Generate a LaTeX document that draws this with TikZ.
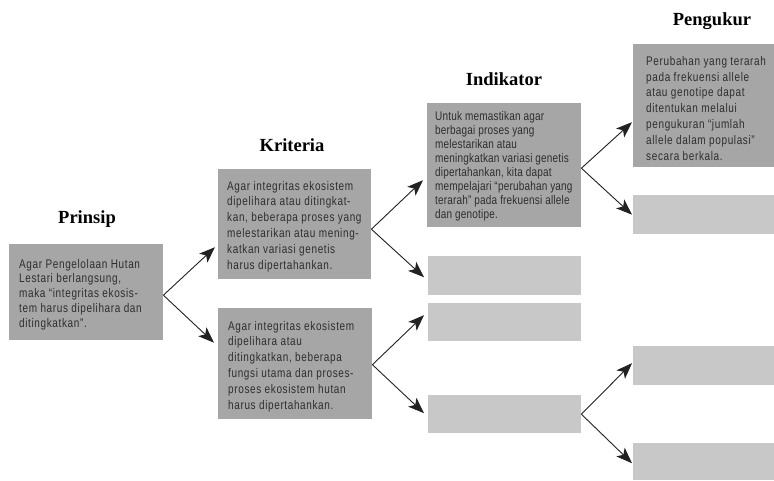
\documentclass[tikz,border=0pt]{standalone}
\usepackage{fontspec}
\setmainfont{Liberation Serif}
\newfontfamily\bodyfont{Liberation Sans}[FakeStretch=0.8, LetterSpace=5]
\newfontfamily\indfont{Liberation Sans}[FakeStretch=0.8, LetterSpace=1.5]
\usetikzlibrary{arrows.meta}
\definecolor{darkbox}{HTML}{A6A6A6}
\definecolor{lightbox}{HTML}{C8C8C8}
\definecolor{txtgray}{HTML}{2E2E2E}
\definecolor{arrowcol}{HTML}{222222}
\begin{document}
\begin{tikzpicture}[x=1pt,y=-1pt,
  dbox/.style={fill=darkbox, draw=none, anchor=north west, inner sep=0pt},
  lbox/.style={fill=lightbox, draw=none, anchor=north west, inner sep=0pt},
  title/.style={anchor=base, inner sep=0pt, font=\fontsize{18.5}{21}\selectfont\bfseries, text=black},
  btext/.style={anchor=base west, inner sep=0pt, align=left, text=txtgray, font=\bodyfont\fontsize{12.5}{15.8}\selectfont},
  itext/.style={anchor=base west, inner sep=0pt, align=left, text=txtgray, font=\indfont\fontsize{12.5}{14.1}\selectfont},
  arr/.style={draw=arrowcol, line width=0.9pt, -{Stealth[length=16pt,width=12pt,inset=4pt]}}
]
\useasboundingbox (0,0) rectangle (774,480);
\fill[white] (0,0) rectangle (774,480);

% titles
\node[title] (tP) at (87,223) {Prinsip};
\node[title] (tK) at (292,151) {Kriteria};
\node[title] (tI) at (504,85) {Indikator};
\node[title] (tG) at (712,25) {Pengukur};

% Prinsip
\node[dbox, minimum width=154pt, minimum height=96pt] (P) at (9,244) {};
\node[btext, font=\bodyfont\fontsize{12.5}{14.75}\selectfont] (Pt) at (19,327) {Agar Pengelolaan Hutan\\Lestari berlangsung,\\maka “integritas ekosis-\\tem harus dipelihara dan\\ditingkatkan”.};

% Kriteria
\node[dbox, minimum width=153pt, minimum height=110pt] (K1) at (218,169) {};
\node[btext] (K1t) at (227,269) {Agar integritas ekosistem\\dipelihara atau ditingkat-\\kan, beberapa proses yang\\melestarikan atau mening-\\katkan variasi genetis\\harus dipertahankan.};
\node[dbox, minimum width=154pt, minimum height=111pt] (K2) at (218,308) {};
\node[btext] (K2t) at (228,409) {Agar integritas ekosistem\\dipelihara atau\\ditingkatkan, beberapa\\fungsi utama dan proses-\\proses ekosistem hutan\\harus dipertahankan.};

% Indikator
\node[dbox, minimum width=154pt, minimum height=124pt] (I1) at (427,103) {};
\node[itext] (I1t) at (435,218.7) {Untuk memastikan agar\\berbagai proses yang\\melestarikan atau\\meningkatkan variasi genetis\\dipertahankan, kita dapat\\mempelajari “perubahan yang\\terarah” pada frekuensi allele\\dan genotipe.};
\node[lbox, minimum width=153pt, minimum height=39pt] (I2) at (428,256) {};
\node[lbox, minimum width=153pt, minimum height=38pt] (I3) at (428,303) {};
\node[lbox, minimum width=153pt, minimum height=38pt] (I4) at (428,395) {};

% Pengukur
\node[dbox, minimum width=141pt, minimum height=123pt] (G1) at (633,44) {};
\node[btext] (G1t) at (646,160) {Perubahan yang terarah\\pada frekuensi allele\\atau genotipe dapat\\ditentukan melalui\\pengukuran “jumlah\\allele dalam populasi”\\secara berkala.};
\node[lbox, minimum width=141pt, minimum height=39pt] (G2) at (633,195) {};
\node[lbox, minimum width=141pt, minimum height=39pt] (G3) at (633,346) {};
\node[lbox, minimum width=141pt, minimum height=37pt] (G4) at (633,443) {};

% arrows
\draw[arr] ([yshift=-3pt]P.east) -- ([xshift=-3pt,yshift=-23pt]K1.west);
\draw[arr] ([yshift=-3pt]P.east) -- ([xshift=-4pt,yshift=21pt]K2.west);
\draw[arr] ([yshift=-5pt]K1.east) -- ([xshift=-4pt,yshift=-15pt]I1.west);
\draw[arr] ([yshift=-5pt]K1.east) -- ([xshift=-4pt,yshift=-1.5pt]I2.west);
\draw[arr] ([yshift=-1pt]K2.east) -- ([xshift=-4pt,yshift=7pt]I3.west);
\draw[arr] ([yshift=-1pt]K2.east) -- ([xshift=-4pt,yshift=1pt]I4.west);
\draw[arr] ([yshift=-3pt]I1.east) -- ([xshift=-1pt,yshift=-16.5pt]G1.west);
\draw[arr] ([yshift=-3pt]I1.east) -- ([xshift=-1pt,yshift=0pt]G2.west);
\draw[arr] (I4.east) -- ([xshift=-1pt,yshift=2.5pt]G3.west);
\draw[arr] (I4.east) -- ([xshift=-1pt,yshift=-1.5pt]G4.west);
\end{tikzpicture}
\end{document}
